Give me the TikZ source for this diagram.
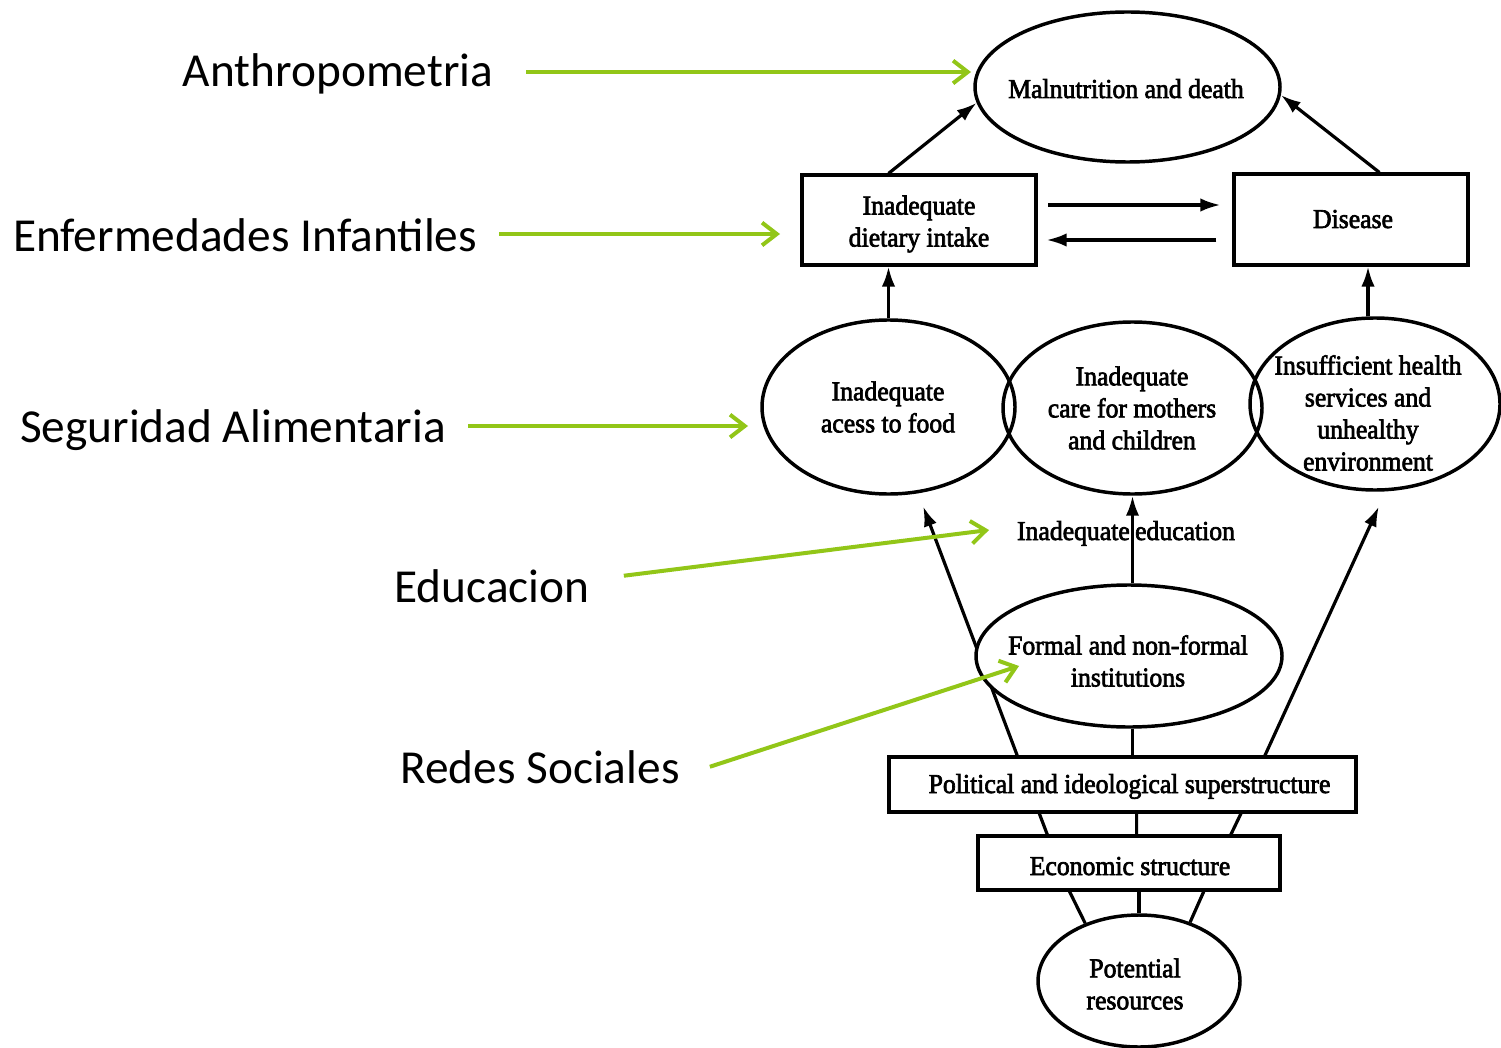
\documentclass[tikz,border=0pt]{standalone}
\usepackage{fontspec}
\setmainfont{Liberation Serif}[FakeBold=2.5, FakeStretch=0.94]
\newfontfamily\lblfont{Carlito}
\usetikzlibrary{arrows.meta,calc,shapes.geometric,backgrounds}
\definecolor{gr}{RGB}{146,198,24}
\begin{document}
\begin{tikzpicture}[x=0.75pt,y=-0.75pt,
  lbl/.style={font=\lblfont\fontsize{35.5}{40}\selectfont, inner sep=0pt},
  dtxt/.style={font=\fontsize{20.5}{24}\selectfont, align=center, inner sep=0pt},
  ell/.style={draw, ellipse, line width=2.6pt, inner sep=0pt},
  box/.style={draw, rectangle, line width=2.3pt, inner sep=0pt},
  arr/.style={line width=2.4pt, -{Latex[length=15pt,width=10pt]}},
  ln/.style={line width=2.4pt},
  garr/.style={draw=gr, line width=3pt, -{Straight Barb[length=11pt,width=17pt]}}
]
\useasboundingbox (0,0) rectangle (1501,1048);

% diagram shapes
\node[ell, minimum width=228.75pt, minimum height=112.5pt] (mal) at (1127.5,87) {};
\node[box, minimum width=175.5pt, minimum height=67.5pt] (box1) at (919,220) {};
\node[box, minimum width=175.5pt, minimum height=68.25pt] (dis) at (1351,219.5) {};
\node[ell, minimum width=189.75pt, minimum height=130.5pt] (food) at (888.5,407) {};
\node[ell, minimum width=194.25pt, minimum height=129pt] (care) at (1132.5,408) {};
\node[ell, minimum width=187.5pt, minimum height=129pt] (health) at (1375,404) {};
\node[ell, fill=white, minimum width=229.5pt, minimum height=106.5pt] (formal) at (1129,656) {};
\node[box, minimum width=350.25pt, minimum height=41.25pt] (pol) at (1122.5,784.5) {};
\node[box, minimum width=226.5pt, minimum height=40.5pt] (econ) at (1129,863) {};
\node[ell, minimum width=151.5pt, minimum height=99pt] (pot) at (1139,981) {};

% diagram texts
\node[dtxt, anchor=base] (malT) at (1126,98) {Malnutrition and death};
\node[dtxt] (box1T) at (919,224) {Inadequate\\dietary intake};
\node[dtxt, anchor=base] (disT) at (1353,228) {Disease};
\node[dtxt] (foodT) at (888,407) {Inadequate\\acess to food};
\node[dtxt] (careT) at (1132,408) {Inadequate\\care for mothers\\and children};
\node[dtxt] (healthT) at (1368,413) {Insufficient health\\services and\\unhealthy\\environment};
\node[dtxt, anchor=base] (eduT) at (1126,540) {Inadequate\hspace{4pt}education};
\node[dtxt] (formalT) at (1128,661) {Formal and non-formal\\institutions};
\node[dtxt, anchor=base] (polT) at (1129.5,793) {Political and ideological superstructure};
\node[dtxt, anchor=base] (econT) at (1130,875) {Economic structure};
\node[dtxt] (potT) at (1135,984) {Potential\\resources};

% black connectors
\draw[arr] (food.north |- box1.north) -- (mal.186);
\draw[arr] ($(dis.north west)!0.62!(dis.north east)$) -- (mal.357);
\draw[arr, shorten <=8pt, shorten >=9pt] ([yshift=11.25pt]box1.east) -- ([yshift=11.25pt]box1.east -| dis.west);
\draw[arr, shorten <=12pt, shorten >=6.75pt] ([yshift=-15pt]box1.east -| dis.west) -- ([yshift=-15pt]box1.east);
\draw[arr] (food.north) -- (food.north |- box1.south);
\path ($(health.north)+(-7,0)$) coordinate (hN);
\draw[arr] (hN) -- (hN |- dis.south);
\draw[arr] (care.south |- formal.north) -- (care.south);
\begin{scope}[on background layer]
\draw[arr, shorten >=10.5pt] ($(pol.north west)!0.276!(pol.north east)$) -- (food.289);
\end{scope}
\draw[arr, shorten >=12.5pt] ($(pol.north west)!0.803!(pol.north east)$) -- (health.277);
\draw[ln] (care.south |- formal.south) -- (care.south |- pol.north);
\draw[ln] ($(pol.south west)!0.323!(pol.south east)$) -- ($(econ.north west)!0.232!(econ.north east)$);
\draw[ln] ($(pol.south west)!0.53!(pol.south east)$) -- ($(econ.north west)!0.525!(econ.north east)$);
\draw[ln] ($(pol.south west)!0.752!(pol.south east)$) -- ($(econ.north west)!0.834!(econ.north east)$);
\draw[ln] ($(econ.south west)!0.305!(econ.south east)$) -- (pot.133);
\draw[ln] (pot.north |- econ.south) -- (pot.north);
\draw[ln] ($(econ.south west)!0.745!(econ.south east)$) -- (pot.49);

% green labels
\node[lbl, anchor=base] (anth) at (338,87) {Anthropometria};
\node[lbl, anchor=base] (enf) at (245,252) {Enfermedades Infantiles};
\node[lbl, anchor=base] (seg) at (233,442) {Seguridad Alimentaria};
\node[lbl, anchor=base] (edu) at (492,602) {Educacion};
\node[lbl, anchor=base] (red) at (540,783) {Redes Sociales};

\coordinate (tA) at (971,72);
\coordinate (tE) at (780,234);
\coordinate (tS) at (748,426);
\coordinate (tD) at (989,530);
\coordinate (tR) at (1019,666);

\draw[garr, shorten <=24.75pt] (anth.east |- tA) -- (tA);
\draw[garr, shorten <=16.5pt] (enf.east |- tE) -- (tE);
\draw[garr, shorten <=16.5pt] (seg.east |- tS) -- (tS);
\draw[garr] ($(edu.east)+(34,-10)$) -- (tD);
\draw[garr] ($(red.east)+(30,0)$) -- (tR);
\end{tikzpicture}
\end{document}
